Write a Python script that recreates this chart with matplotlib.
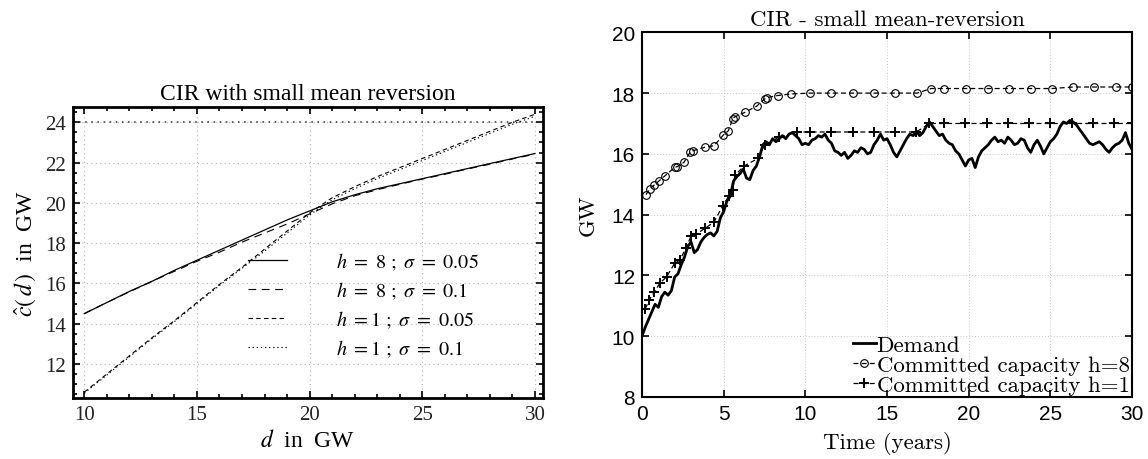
import numpy as np
import matplotlib
matplotlib.use("Agg")
import matplotlib.pyplot as plt
from matplotlib.ticker import MultipleLocator

plt.rcParams['mathtext.fontset'] = 'stix'

# ---------------- left panel data ----------------
d_gw = [10, 11, 12, 13, 14, 15, 16, 17, 18, 19, 20,
        21, 22, 23, 24, 25, 26, 27, 28, 29, 30]
c_h8_s005 = [14.5, 15.05, 15.6, 16.1, 16.65, 17.15, 17.65, 18.15, 18.65, 19.15, 19.6,
             20.05, 20.4, 20.7, 20.95, 21.2, 21.45, 21.7, 21.95, 22.2, 22.45]
c_h8_s01 = [14.5, 15.05, 15.58, 16.1, 16.6, 17.1, 17.55, 18.05, 18.5, 18.95, 19.45,
            19.95, 20.35, 20.65, 20.92, 21.18, 21.42, 21.68, 21.92, 22.18, 22.42]
c_h1_s005 = [10.6, 11.5, 12.4, 13.3, 14.15, 15.05, 15.95, 16.8, 17.7, 18.6, 19.5,
             20.25, 20.8, 21.3, 21.75, 22.2, 22.65, 23.1, 23.55, 24.0, 24.4]
c_h1_s01 = [10.55, 11.45, 12.35, 13.25, 14.1, 15.0, 15.9, 16.75, 17.6, 18.5, 19.4,
            20.15, 20.7, 21.2, 21.65, 22.1, 22.55, 23.0, 23.45, 23.9, 24.3]
ref_level = 24
left_labels = [r"$h\ =\ 8\ ;\ \sigma\ =\ 0.05$", r"$h\ =\ 8\ ;\ \sigma\ =\ 0.1$",
               r"$h\ =1\ ;\ \sigma\ =\ 0.05$", r"$h\ =1\ ;\ \sigma\ =\ 0.1$"]

# ---------------- right panel data ----------------
t_demand = [round(0.2 * i, 1) for i in range(151)]
demand = [10.0, 10.3, 10.55, 10.8, 11.05, 10.95, 11.3, 11.45, 11.35, 11.5,
          11.95, 12.05, 12.35, 12.6, 12.95, 13.1, 12.75, 12.85, 13.1, 13.25,
          13.35, 13.4, 13.3, 13.45, 13.9, 14.1, 14.45, 14.6, 15.1, 15.25,
          15.35, 15.5, 15.2, 15.15, 15.45, 15.6, 15.9, 16.3, 16.4, 16.3,
          16.5, 16.4, 16.5, 16.6, 16.5, 16.65, 16.7, 16.6, 16.5, 16.3,
          16.35, 16.3, 16.45, 16.5, 16.6, 16.55, 16.65, 16.45, 16.35, 16.1,
          16.05, 15.95, 16.05, 15.85, 15.95, 16.1, 16.05, 16.2, 16.15, 16.0,
          16.05, 16.3, 16.45, 16.65, 16.45, 16.5, 16.3, 16.05, 15.9, 16.1,
          16.3, 16.5, 16.65, 16.6, 16.75, 16.6, 16.7, 16.9, 17.05, 16.9,
          16.75, 16.6, 16.65, 16.45, 16.35, 16.3, 16.1, 16.0, 15.8, 15.6,
          15.8, 15.85, 15.55, 15.9, 16.1, 16.2, 16.3, 16.45, 16.55, 16.4,
          16.45, 16.35, 16.55, 16.45, 16.3, 16.35, 16.5, 16.45, 16.2, 16.05,
          16.3, 16.45, 16.25, 16.0, 16.2, 16.4, 16.5, 16.65, 16.9, 17.05,
          17.0, 17.1, 17.05, 16.95, 16.8, 16.65, 16.5, 16.35, 16.3, 16.35,
          16.4, 16.3, 16.15, 16.05, 16.2, 16.3, 16.35, 16.45, 16.7, 16.35,
          16.15]

t_cap8 = [0.24, 0.49, 0.76, 1.06, 1.41, 2.02, 2.16, 2.57, 2.94, 3.1, 3.86, 4.41,
          4.98, 5.29, 5.55, 5.69, 6.31, 7.02, 7.5, 7.65, 8.3, 9.1, 10.3, 11.6,
          12.9, 14.2, 15.5, 16.85, 17.7, 18.5, 19.85, 21.2, 22.5, 23.8, 25.1,
          26.4, 27.7, 29.0, 30.0]
cap8 = [14.66, 14.85, 14.98, 15.12, 15.28, 15.56, 15.58, 15.72, 16.05, 16.1, 16.22, 16.27,
        16.62, 16.76, 17.15, 17.22, 17.37, 17.57, 17.8, 17.85, 17.92, 17.97, 18.0, 18.0,
        18.0, 18.0, 18.0, 18.0, 18.15, 18.15, 18.15, 18.15, 18.15, 18.15, 18.15,
        18.2, 18.2, 18.2, 18.2]

t_cap1 = [0.2, 0.45, 0.75, 1.1, 1.5, 2.0, 2.3, 2.7, 3.0, 3.3, 3.85, 4.4, 4.95, 5.3,
          5.55, 5.7, 6.25, 7.1, 7.5, 8.4, 9.5, 10.3, 11.6, 12.9, 14.2, 15.5, 16.8,
          17.6, 18.5, 19.8, 21.1, 22.4, 23.7, 25.0, 26.3, 27.6, 28.9, 30.0]
cap1 = [10.9, 11.2, 11.45, 11.75, 11.95, 12.4, 12.5, 12.9, 13.3, 13.35, 13.55, 13.75,
        14.3, 14.6, 14.8, 15.3, 15.6, 15.85, 16.3, 16.55, 16.72, 16.72, 16.72, 16.72,
        16.72, 16.72, 16.72, 17.0, 17.0, 17.0, 17.0, 17.0, 17.0, 17.0, 17.0, 17.0,
        17.0, 17.0]

W, H = 1148, 460
fig = plt.figure(figsize=(W / 100, H / 100), dpi=100)

# ---------------- left panel ----------------
serif = 'Liberation Serif'
ax1 = fig.add_axes([73 / W, 1 - 399 / H, 470 / W, 291 / H])
ax1.plot(d_gw, c_h8_s005, color='black', lw=0.9, ls='-', label=left_labels[0])
ax1.plot(d_gw, c_h8_s01, color='black', lw=0.8, ls=(0, (7, 5)), label=left_labels[1])
ax1.plot(d_gw, c_h1_s005, color='black', lw=0.8, ls=(0, (4, 3)), label=left_labels[2])
ax1.plot(d_gw, c_h1_s01, color='black', lw=0.8, ls=(0, (1.2, 2.5)), label=left_labels[3])
ax1.axhline(ref_level, color='#333333', lw=1.1, ls=(0, (1, 3)))

ax1.set_xlim(9.5, 30.36)
ax1.set_ylim(10.31, 24.76)
ax1.xaxis.set_major_locator(MultipleLocator(5))
ax1.xaxis.set_minor_locator(MultipleLocator(1))
ax1.yaxis.set_major_locator(MultipleLocator(2))
ax1.yaxis.set_minor_locator(MultipleLocator(0.5))
ax1.tick_params(which='both', direction='in', top=True, right=True, width=1.2)
ax1.tick_params(which='major', length=5, labelsize=15, pad=5)
ax1.tick_params(which='minor', length=3)
for lab in ax1.get_xticklabels() + ax1.get_yticklabels():
    lab.set_fontfamily(serif)
    lab.set_color('#222222')
ax1.grid(True, which='major', color='#b5b5b5', ls=(0, (1, 3)), lw=0.8)
for s in ax1.spines.values():
    s.set_linewidth(2.0)
ax1.set_title("CIR with small mean reversion", fontsize=17, family=serif, pad=6)
ax1.set_xlabel(r"$d$  in  GW", fontsize=17, family=serif, labelpad=4)
ax1.set_ylabel(r"$\hat{c}(\,d\,)$  in  GW", fontsize=17, family=serif, labelpad=5)
leg1 = ax1.legend(loc='upper left', bbox_to_anchor=(175 / 470, (399 - 252) / 291),
                  frameon=False, prop={'family': serif, 'size': 14.5},
                  handlelength=1.95, handletextpad=2.4, labelspacing=0.37,
                  borderpad=0, borderaxespad=0)

# ---------------- right panel ----------------
cm = 'cmr10'
ax2 = fig.add_axes([642 / W, 1 - 398 / H, 490 / W, 364.7 / H])
ax2.plot(t_demand, demand, color='black', lw=2.0, label='Demand')
ax2.plot(t_cap8, cap8, color='black', lw=0.9, ls=(0, (4, 2.5)), marker='o',
         ms=5.5, mfc='none', mew=0.8, label='Committed capacity h=8')
ax2.plot(t_cap1, cap1, color='black', lw=0.9, ls=(0, (4, 2.5)), marker='+',
         ms=7, mew=1.4, label='Committed capacity h=1')
ax2.set_xlim(0, 30)
ax2.set_ylim(8, 20)
ax2.xaxis.set_major_locator(MultipleLocator(5))
ax2.yaxis.set_major_locator(MultipleLocator(2))
ax2.tick_params(direction='in', top=True, right=True, length=5, width=1.2,
                labelsize=15, pad=5)
for lab in ax2.get_xticklabels() + ax2.get_yticklabels():
    lab.set_fontfamily('Liberation Sans')
ax2.grid(True, color='#c8c8c8', ls=(0, (1, 2)), lw=0.7)
for s in ax2.spines.values():
    s.set_linewidth(1.5)
ax2.set_title("CIR - small mean-reversion", fontsize=16.5, family=cm, pad=5)
ax2.set_xlabel("Time (years)", fontsize=16.5, family=cm, labelpad=6)
ax2.set_ylabel("GW", fontsize=16.5, family=cm, labelpad=10)
leg2 = ax2.legend(loc='lower right', frameon=False, prop={'family': cm, 'size': 16.5},
                  handlelength=1.0, handletextpad=0.05, labelspacing=0.0,
                  borderpad=0.0, borderaxespad=0.1)

fig.savefig("out.png", dpi=100)
